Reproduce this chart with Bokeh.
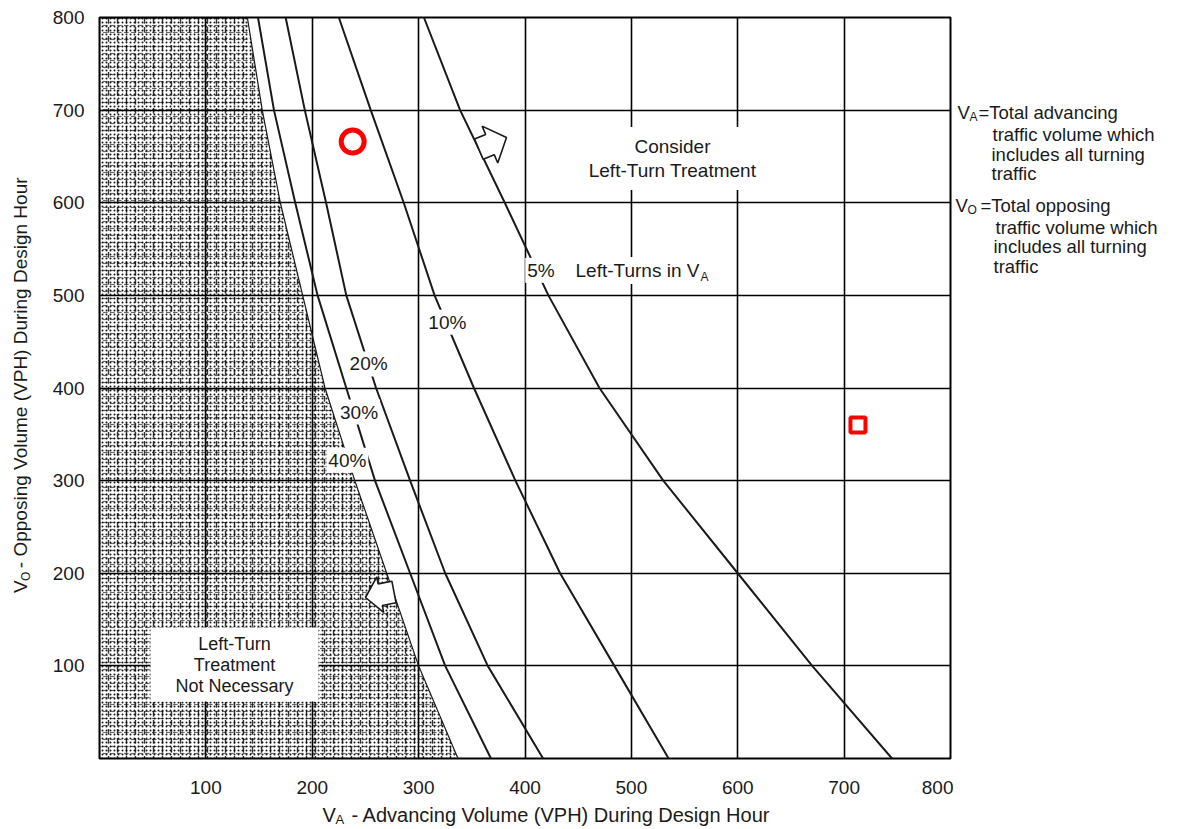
import math
from bokeh.plotting import figure
from bokeh.models import Range1d, Label, FixedTicker
from bokeh.layouts import row, column
from bokeh.embed import file_html
from bokeh.resources import INLINE

# ---------------- data ----------------
tick_values = [100, 200, 300, 400, 500, 600, 700, 800]

# opposing volume levels (VPH) at which the curves were read
opposing_vol = [800, 700, 600, 500, 400, 300, 200, 100, 0]
# advancing volume (VPH) of each "% left turns in VA" curve at those levels
va_40pct = [139, 153, 170, 191, 212, 240, 270, 300, 337]
va_30pct = [149, 164, 184, 205, 232, 259, 292, 325, 368]
va_20pct = [175, 193, 213, 232, 260, 292, 325, 365, 417]
va_10pct = [225, 255, 286, 315, 352, 391, 433, 484, 535]
va_5pct = [305, 339, 381, 422, 470, 530, 600, 670, 745]

pct_labels = ["40%", "30%", "20%", "10%", "5%"]
pct_label_x = [233, 244, 253, 327, 415]
pct_label_y = [322, 374, 426, 471, 527]

circle_pt_x = [238]
circle_pt_y = [666]
square_pt_x = [713]
square_pt_y = [360]

# ---------------- layout ----------------
FONT = "Liberation Sans"
INK = "#1a1a1a"
YLAB_W = 40                     # strip holding the y title
BL, BR, BT, BB = 59, 3, 17, 44  # borders of the chart figure
FW, FH = 851, 741               # chart frame
NOTES_W = 222
XLAB_H = 26
P_LEFT = YLAB_W + BL            # page x of the frame's left edge
SX, SY = FW / 800.0, FH / 800.0


def dx(px):  # page pixel -> data x
    return (px - P_LEFT) / SX


def dy(py):  # page pixel -> data y
    return (BT + FH - py) / SY


p = figure(width=BL + FW + BR, height=BT + FH + BB,
           x_range=Range1d(0, 800), y_range=Range1d(0, 800),
           min_border_left=BL, min_border_right=BR,
           min_border_top=BT, min_border_bottom=BB,
           output_backend="svg", toolbar_location=None,
           background_fill_color="white", border_fill_color="white")

p.outline_line_color = "black"
p.outline_line_width = 2

for ax in (p.xaxis[0], p.yaxis[0]):
    ax.ticker = FixedTicker(ticks=tick_values)
    ax.axis_line_color = None
    ax.major_tick_line_color = None
    ax.minor_tick_line_color = None
    ax.major_label_text_font = FONT
    ax.major_label_text_font_size = "19px"
    ax.major_label_text_color = INK
p.xaxis.major_label_standoff = 16
p.yaxis.major_label_standoff = 9

for g in (p.xgrid[0], p.ygrid[0]):
    g.ticker = FixedTicker(ticks=tick_values)
    g.grid_line_color = "black"
    g.grid_line_width = 1.6
    g.grid_line_alpha = 1.0

# shaded "not necessary" area, left of the 40% curve (stipple look)
shade_x = [0] + va_40pct + [0]
shade_y = [800] + opposing_vol + [0]
for pat, sc, wt, al in (("dot", 4, 1.5, 0.9), ("vertical_dash", 9, 1.4, 0.8),
                        ("horizontal_dash", 7, 1.2, 0.6)):
    p.patch(shade_x, shade_y, fill_color="white", fill_alpha=0.0,
            hatch_pattern=pat, hatch_color="black", hatch_scale=sc,
            hatch_weight=wt, hatch_alpha=al, line_color=None)

# curves
p.line(va_40pct, opposing_vol, line_color=INK, line_width=1.2)
for xs in (va_30pct, va_20pct, va_10pct, va_5pct):
    p.line(xs, opposing_vol, line_color=INK, line_width=2)


# hollow block arrows
def block_arrow(tip_x, tip_y, angle_deg, head_len, head_w, shaft_w, shaft_len):
    a = math.radians(angle_deg)
    ux, uy = math.cos(a), math.sin(a)
    nx, ny = -uy, ux
    shape = [(0, 0), (-head_len, head_w / 2), (-head_len, shaft_w / 2),
             (-head_len - shaft_len, shaft_w / 2), (-head_len - shaft_len, -shaft_w / 2),
             (-head_len, -shaft_w / 2), (-head_len, -head_w / 2)]
    xs = [tip_x + (s * ux + t * nx) / SX for s, t in shape]
    ys = [tip_y + (s * uy + t * ny) / SY for s, t in shape]
    p.patch(xs, ys, fill_color="white", line_color=INK, line_width=1.6)


block_arrow(dx(506), dy(137), 23, 18, 40, 22, 12)
block_arrow(dx(365), dy(597), 191, 15, 36, 22, 14)

# percent labels on the curves
for t, x, y in zip(pct_labels, pct_label_x, pct_label_y):
    p.add_layout(Label(x=x, y=y, text=t, text_align="center", text_baseline="middle",
                       text_font=FONT, text_font_size="19px", text_color=INK,
                       background_fill_color="white", padding=2))

# region texts
p.add_layout(Label(x=dx(672), y=dy(158), text="Consider\nLeft-Turn Treatment",
                   text_align="center", text_baseline="middle", text_line_height=1.15,
                   text_font=FONT, text_font_size="19px", text_color=INK,
                   background_fill_color="white", padding=(14, 9)))
p.add_layout(Label(x=dx(234), y=dy(664), text="Left-Turn\nTreatment\nNot Necessary",
                   text_align="center", text_baseline="middle", text_line_height=1.05,
                   text_font=FONT, text_font_size="18px", text_color=INK,
                   background_fill_color="white", padding=(25, 6)))

# "Left-Turns in VA"
p.add_layout(Label(x=dx(572), y=dy(270), text="Left-Turns in V", text_align="left",
                   text_baseline="middle", text_font=FONT, text_font_size="19px",
                   text_color=INK, background_fill_color="white", padding=3))
p.add_layout(Label(x=dx(700), y=dy(276), text="A", text_align="left",
                   text_baseline="middle", text_font=FONT, text_font_size="12px",
                   text_color=INK))

# red markers
p.scatter(circle_pt_x, circle_pt_y, marker="circle", size=23, fill_color=None,
          line_color="#ff0000", line_width=5)
p.scatter(square_pt_x, square_pt_y, marker="square", size=15, fill_color=None,
          line_color="#ff0000", line_width=4)


# ---------------- text strips around the chart ----------------
def blank_fig(w, h):
    f = figure(width=w, height=h, x_range=Range1d(0, w), y_range=Range1d(h, 0),
               min_border=0, toolbar_location=None, output_backend="svg",
               x_axis_location=None, y_axis_location=None,
               background_fill_color="white", border_fill_color="white")
    f.outline_line_color = None
    f.grid.visible = False
    return f


def txt(f, x, y, s, size="18.5px", angle=0.0):
    f.add_layout(Label(x=x, y=y, text=s, text_align="left", text_baseline="middle",
                       text_font=FONT, text_font_size=size, text_color=INK, angle=angle))


# y title (reads upwards)
ylab = blank_fig(YLAB_W, BT + FH + BB)
txt(ylab, 20, 623, "V", size="19px", angle=math.pi / 2)
txt(ylab, 25, 610, "O", size="12px", angle=math.pi / 2)
txt(ylab, 20, 596, "- Opposing Volume (VPH) During Design Hour", size="19px",
    angle=math.pi / 2)

# notes on the right
notes = blank_fig(NOTES_W, BT + FH + BB)
N0 = P_LEFT + FW + BR  # page x of the notes strip
txt(notes, 957 - N0, 103, "V")
txt(notes, 969 - N0, 108, "A", size="12px")
txt(notes, 978 - N0, 103, "=Total advancing")
txt(notes, 992 - N0, 127, "traffic volume which")
txt(notes, 991 - N0, 148, "includes all turning")
txt(notes, 991 - N0, 169, "traffic")
txt(notes, 955 - N0, 203, "V")
txt(notes, 967 - N0, 208, "O", size="12px")
txt(notes, 980 - N0, 203, "=Total opposing")
txt(notes, 995 - N0, 227, "traffic volume which")
txt(notes, 993 - N0, 248, "includes all turning")
txt(notes, 993 - N0, 270, "traffic")

# x title
XW = YLAB_W + BL + FW + BR + NOTES_W
xlab = blank_fig(XW, XLAB_H)
Y0 = BT + FH + BB  # page y of the strip
txt(xlab, 322, 814 - Y0, "V", size="20px")
txt(xlab, 335, 819 - Y0, "A", size="13px")
txt(xlab, 351, 814 - Y0, "- Advancing Volume (VPH) During Design Hour", size="20px")

layout = column(row(ylab, p, notes), xlab)
open("out.html", "w").write(file_html(layout, INLINE))
